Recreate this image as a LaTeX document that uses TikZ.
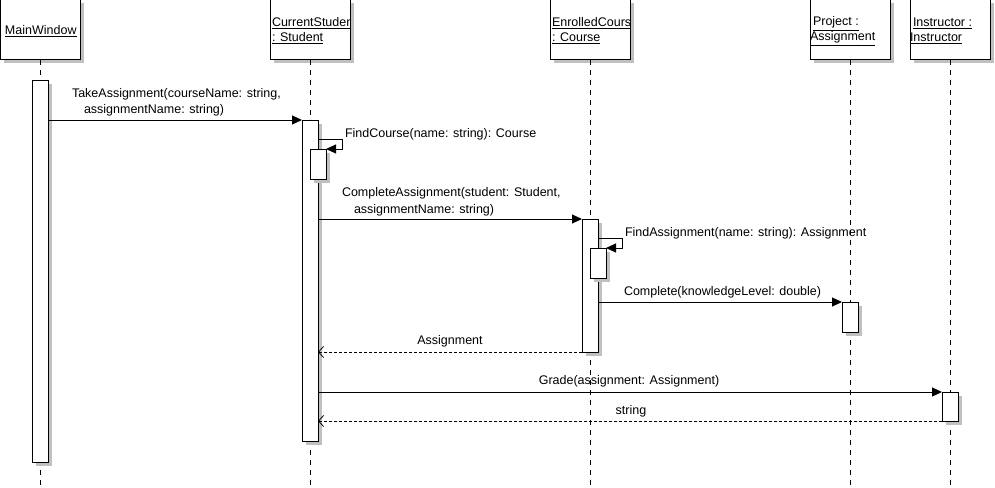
\documentclass[tikz,border=0pt]{standalone}
\usepackage{fontspec}
\setmainfont{Liberation Sans}
\usetikzlibrary{arrows.meta,calc}
\definecolor{shade}{RGB}{192,192,192}
\begin{document}
\begin{tikzpicture}[x=1pt,y=-1pt,
  every node/.style={font=\fontsize{12.5}{14}\selectfont, inner sep=0pt, outer sep=0pt},
  shadowed/.style={preaction={fill=shade, transform canvas={xshift=3.5pt,yshift=-3.5pt}}},
  head/.style={draw, line width=1pt, fill=white, minimum width=80pt, minimum height=60pt, shadowed},
  act/.style={draw, line width=1pt, fill=white, minimum width=16pt, shadowed},
  life/.style={line width=1pt, dash pattern=on 5pt off 5pt},
  call/.style={line width=1pt, -{Triangle[length=10pt,width=9pt]}},
  ret/.style={line width=0.8pt, dash pattern=on 3pt off 2pt, -{Straight Barb[length=5pt,width=11pt]}},
  lbl/.style={anchor=west},
  clbl/.style={anchor=center},
]
\useasboundingbox (0,0) rectangle (995,487);
% heads
\node[head] (mw) at (40,30) {};
\node[head] (cs) at (310,30) {};
\node[head] (ec) at (590,30) {};
\node[head] (pj) at (850,30) {};
\node[head] (in) at (950,30) {};
% head texts
\begin{scope}
\clip (mw.south west) rectangle (mw.north east);
\node[lbl] (mwt) at (5,31.5) {\underline{MainWindow}};
\end{scope}
\begin{scope}
\clip (cs.south west) rectangle (cs.north east);
\node[lbl] (cst1) at (272,23.5) {\underline{CurrentStudent}};
\node[lbl] (cst2) at (272,38.5) {\underline{: Student}};
\end{scope}
\begin{scope}
\clip (ec.south west) rectangle (ec.north east);
\node[lbl] (ect1) at (552,23.5) {\underline{EnrolledCourse}};
\node[lbl] (ect2) at (552,38.5) {\underline{: Course}};
\end{scope}
\begin{scope}
\clip (pj.south west) rectangle (pj.north east);
\node[lbl] (pjt1) at (813,23.5) {\underline{Project :}};
\node[lbl] (pjt2) at (810,38.5) {\underline{Assignment}};
\end{scope}
\begin{scope}
\clip (in.south west) rectangle (in.north east);
\node[lbl] (int1) at (913,23.5) {\underline{Instructor :}};
\node[lbl] (int2) at (910,38.5) {\underline{Instructor}};
\end{scope}
% lifelines
\coordinate (bottom) at (0,487);
\foreach \h in {mw,cs,ec,pj,in}{
  \draw[life] (\h.south) -- (\h.south |- bottom);
}
% activations
\node[act, minimum height=382pt] (a1) at (40,271) {};
\node[act, minimum height=321pt] (a2) at (310,280.5) {};
\node[act, minimum height=30pt] (a2b) at (318,164) {};
\node[act, minimum height=133pt] (a3) at (590,285.5) {};
\node[act, minimum height=30pt] (a3b) at (598,263) {};
\node[act, minimum height=30pt] (a4) at (850,317) {};
\node[act, minimum height=29pt] (a5) at (950,406.5) {};
% messages
\draw[call] (a1.east |- a2.north) -- (a2.north west);
\node[lbl] (l1a) at (72,94) {TakeAssignment(courseName: string,};
\node[lbl] (l1b) at (84,110.5) {assignmentName: string)};

\coordinate (fc) at (342,139);
\draw[call] (a2.east |- fc) -- (fc) -- (fc |- a2b.north) -- (a2b.north east);
\node[lbl] (l2) at (345,134.5) {FindCourse(name: string): Course};

\draw[call] (a2.east |- a3.north) -- (a3.north west);
\node[lbl] (l3a) at (342,193.5) {CompleteAssignment(student: Student,};
\node[lbl] (l3b) at (354,210) {assignmentName: string)};

\coordinate (fa) at (622,238);
\draw[call] (a3.east |- fa) -- (fa) -- (fa |- a3b.north) -- (a3b.north east);
\node[lbl] (l4) at (625,233.5) {FindAssignment(name: string): Assignment};

\draw[call] (a3.east |- a4.north) -- (a4.north west);
\node[lbl] (l5) at (624,292.5) {Complete(knowledgeLevel: double)};

\draw[ret] (a3.south west) -- (a2.east |- a3.south);
\node[clbl] (l6) at (450,341.5) {Assignment};

\draw[call] (a2.east |- a5.north) -- (a5.north west);
\node[clbl] (l7) at (629,381.5) {Grade(assignment: Assignment)};

\draw[ret] (a5.south west) -- (a2.east |- a5.south);
\node[clbl] (l8) at (631,411.5) {string};
\end{tikzpicture}
\end{document}
